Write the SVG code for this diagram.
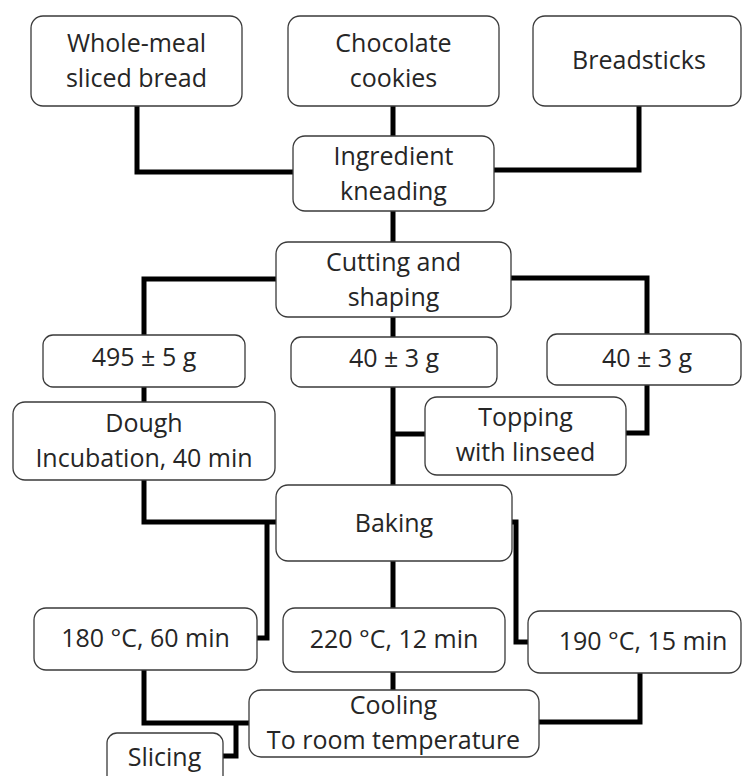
<svg xmlns="http://www.w3.org/2000/svg" width="742" height="776" viewBox="0 0 742 776">
<style>
.box{fill:#fff;stroke:#3a3a3a;stroke-width:1.3}
.t{font-family:"Open Sans","Noto Sans","Liberation Sans",sans-serif;font-size:25px;fill:#262626;text-anchor:middle}
.c{fill:none;stroke:#000;stroke-width:5;stroke-linejoin:miter;stroke-linecap:butt}
</style>
<rect width="742" height="776" fill="#fff"/>
<g id="connectors">
<path class="c" d="M137,106 V172 H293"/>
<path class="c" d="M393,106 V136"/>
<path class="c" d="M639,106 V170 H494"/>
<path class="c" d="M393,211 V242"/>
<path class="c" d="M276,279 H144 V335"/>
<path class="c" d="M393,317 V337"/>
<path class="c" d="M511,278 H647 V334"/>
<path class="c" d="M393,387 V485"/>
<path class="c" d="M647,385 V433 H626"/>
<path class="c" d="M425,434 H393"/>
<path class="c" d="M144,387 V402"/>
<path class="c" d="M144,480 V522 H276"/>
<path class="c" d="M267,522 V638 H257"/>
<path class="c" d="M393,561 V608"/>
<path class="c" d="M512,522 H516 V642 H528"/>
<path class="c" d="M393,672 V690"/>
<path class="c" d="M144,670 V723 H249"/>
<path class="c" d="M236,723 V756 H223"/>
<path class="c" d="M640,673 V722 H539"/>
</g>
<g id="wholemeal"><rect class="box" x="31" y="16" width="211" height="90" rx="12"/><text class="t" x="136.5" y="52">Whole-meal</text><text class="t" x="136.5" y="87">sliced bread</text></g>
<g id="chocolate"><rect class="box" x="288" y="16" width="211" height="90" rx="12"/><text class="t" x="393.5" y="52">Chocolate</text><text class="t" x="393.5" y="87">cookies</text></g>
<g id="breadsticks"><rect class="box" x="533" y="16" width="208" height="90" rx="12"/><text class="t" x="639" y="69">Breadsticks</text></g>
<g id="kneading"><rect class="box" x="293" y="136" width="201" height="75" rx="12"/><text class="t" x="393.5" y="165">Ingredient</text><text class="t" x="393.5" y="200">kneading</text></g>
<g id="cutting"><rect class="box" x="276" y="242" width="235" height="75" rx="12"/><text class="t" x="393.5" y="271">Cutting and</text><text class="t" x="393.5" y="306">shaping</text></g>
<g id="w495"><rect class="box" x="43" y="335" width="202" height="52" rx="10"/><text class="t" x="144" y="366">495 ± 5 g</text></g>
<g id="w40mid"><rect class="box" x="291" y="337" width="206" height="50" rx="10"/><text class="t" x="394" y="367">40 ± 3 g</text></g>
<g id="w40right"><rect class="box" x="547" y="334" width="194" height="51" rx="10"/><text class="t" x="647" y="367">40 ± 3 g</text></g>
<g id="topping"><rect class="box" x="425" y="397" width="201" height="78" rx="12"/><text class="t" x="525.5" y="426">Topping</text><text class="t" x="525.5" y="461">with linseed</text></g>
<g id="dough"><rect class="box" x="13" y="402" width="262" height="78" rx="12"/><text class="t" x="144" y="432">Dough</text><text class="t" x="144" y="467">Incubation, 40 min</text></g>
<g id="baking"><rect class="box" x="276" y="485" width="236" height="76" rx="12"/><text class="t" x="394" y="532">Baking</text></g>
<g id="t180"><rect class="box" x="34" y="608" width="223" height="62" rx="12"/><text class="t" x="145.5" y="647">180 °C, 60 min</text></g>
<g id="t220"><rect class="box" x="283" y="608" width="222" height="64" rx="12"/><text class="t" x="394" y="648">220 °C, 12 min</text></g>
<g id="t190"><rect class="box" x="528" y="611" width="213" height="62" rx="12"/><text class="t" x="643" y="650">190 °C, 15 min</text></g>
<g id="cooling"><rect class="box" x="249" y="690" width="290" height="67" rx="12"/><text class="t" x="393.5" y="714">Cooling</text><text class="t" x="393.5" y="749">To room temperature</text></g>
<g id="slicing"><rect class="box" x="107" y="733" width="116" height="60" rx="10"/><text class="t" x="164.5" y="766">Slicing</text></g>
</svg>
